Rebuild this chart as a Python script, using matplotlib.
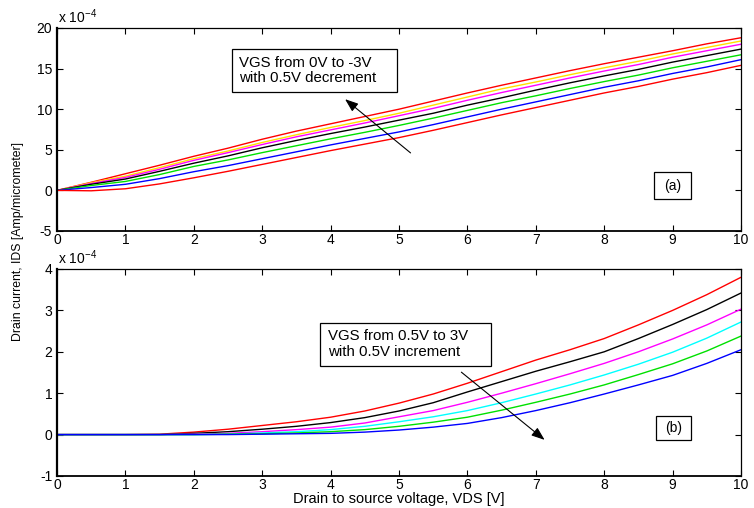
import matplotlib
matplotlib.use('Agg')
import matplotlib.pyplot as plt
from matplotlib.patches import Rectangle

plt.rcParams['font.family'] = ['Liberation Sans', 'DejaVu Sans']
plt.rcParams['mathtext.fontset'] = 'custom'
plt.rcParams['mathtext.rm'] = 'Liberation Sans'
plt.rcParams['mathtext.it'] = 'Liberation Sans'
plt.rcParams['axes.unicode_minus'] = False

# drain-source voltage [V]
vds = [0, 0.5, 1, 1.5, 2, 2.5, 3, 3.5, 4, 4.5, 5, 5.5, 6, 6.5, 7, 7.5, 8, 8.5, 9, 9.5, 10]

# (a) IDS in units of 1e-4 A/um, VGS from 0V to -3V
ids_a_red1 = [0, 1.0, 2.05, 3.1, 4.2, 5.2, 6.3, 7.3, 8.2, 9.1, 10.0, 11.0, 12.0, 12.95, 13.85, 14.75, 15.6, 16.4, 17.2, 18.05, 18.8]
ids_a_yellow = [0, 0.95, 1.75, 2.8, 3.9, 4.85, 5.9, 6.85, 7.75, 8.6, 9.5, 10.5, 11.5, 12.5, 13.35, 14.25, 15.1, 15.9, 16.8, 17.6, 18.4]
ids_a_magenta = [0, 0.85, 1.6, 2.6, 3.7, 4.65, 5.65, 6.6, 7.45, 8.3, 9.2, 10.1, 11.1, 12.05, 12.95, 13.85, 14.7, 15.5, 16.4, 17.2, 18.0]
ids_a_black = [0, 0.75, 1.4, 2.35, 3.35, 4.25, 5.25, 6.15, 7.0, 7.8, 8.65, 9.5, 10.5, 11.4, 12.35, 13.25, 14.1, 14.9, 15.8, 16.6, 17.4]
ids_a_green = [0, 0.6, 1.1, 1.95, 2.95, 3.75, 4.65, 5.5, 6.35, 7.15, 8.0, 8.9, 9.85, 10.8, 11.65, 12.55, 13.4, 14.2, 15.1, 15.9, 16.7]
ids_a_blue = [0, 0.35, 0.75, 1.45, 2.3, 3.05, 3.9, 4.75, 5.6, 6.4, 7.2, 8.1, 9.05, 10.0, 10.9, 11.8, 12.7, 13.5, 14.4, 15.2, 16.1]
ids_a_red2 = [0, -0.05, 0.2, 0.8, 1.55, 2.35, 3.2, 4.05, 4.9, 5.7, 6.5, 7.4, 8.35, 9.3, 10.2, 11.1, 12.0, 12.8, 13.7, 14.5, 15.4]

# (b) IDS in units of 1e-4 A/um, VGS from 0.5V to 3V
ids_b_red = [0, 0, 0, 0.01, 0.06, 0.13, 0.22, 0.31, 0.42, 0.57, 0.76, 0.98, 1.24, 1.52, 1.8, 2.05, 2.32, 2.65, 3.0, 3.38, 3.8]
ids_b_black = [0, 0, 0, 0, 0.03, 0.07, 0.13, 0.2, 0.29, 0.41, 0.57, 0.77, 1.03, 1.28, 1.53, 1.76, 2.0, 2.32, 2.66, 3.02, 3.42]
ids_b_magenta = [0, 0, 0, 0, 0.01, 0.03, 0.07, 0.12, 0.18, 0.28, 0.43, 0.58, 0.78, 1.0, 1.23, 1.47, 1.72, 2.0, 2.31, 2.65, 3.03]
ids_b_cyan = [0, 0, 0, 0, 0, 0.01, 0.04, 0.07, 0.12, 0.2, 0.31, 0.43, 0.58, 0.77, 0.98, 1.2, 1.44, 1.7, 1.99, 2.33, 2.72]
ids_b_green = [0, 0, 0, 0, 0, 0.01, 0.02, 0.04, 0.07, 0.12, 0.2, 0.3, 0.42, 0.59, 0.78, 0.98, 1.2, 1.45, 1.71, 2.02, 2.38]
ids_b_blue = [0, 0, 0, 0, 0, 0, 0.01, 0.02, 0.03, 0.06, 0.11, 0.18, 0.27, 0.41, 0.58, 0.77, 0.98, 1.2, 1.43, 1.72, 2.05]

curves_a = [(ids_a_red1, 'red'), (ids_a_yellow, '#ffe000'), (ids_a_magenta, 'magenta'),
            (ids_a_black, 'black'), (ids_a_green, '#00e000'), (ids_a_blue, 'blue'), (ids_a_red2, 'red')]
curves_b = [(ids_b_red, 'red'), (ids_b_black, 'black'), (ids_b_magenta, 'magenta'),
            (ids_b_cyan, 'cyan'), (ids_b_green, '#00e000'), (ids_b_blue, 'blue')]

fs = 10
fs_note = 10.8

fig = plt.figure(figsize=(7.54, 5.08), dpi=100)
ax1 = fig.add_axes([0.0756, 0.5453, 0.9072, 0.3996])
ax2 = fig.add_axes([0.0756, 0.0630, 0.9072, 0.4075])


def style(ax, ylim, yticks):
    ax.set_xlim(0, 10)
    ax.set_ylim(*ylim)
    ax.set_xticks(range(0, 11))
    ax.set_yticks(yticks)
    ax.tick_params(direction='in', length=4, width=0.8, top=True, right=True,
                   labelsize=fs, colors='black', pad=3.5)
    ax.tick_params(axis='x', pad=1.5)
    for s in ax.spines.values():
        s.set_linewidth(0.9)
    ax.spines['left'].set_linewidth(1.6)
    ax.spines['bottom'].set_linewidth(1.3)


def note_box(ax, x0, y0, x1, y1):
    ax.add_patch(Rectangle((x0, y0), x1 - x0, y1 - y0, fc='white', ec='black', lw=0.9, zorder=4))


arrow = dict(arrowstyle='-|>,head_length=0.8,head_width=0.3', color='black', lw=0.8)

for y, c in curves_a:
    ax1.plot(vds, y, color=c, lw=1.0)
style(ax1, (-5, 20), range(-5, 21, 5))
ax1.text(0.002, 1.012, r'x 10$^{-4}$', transform=ax1.transAxes, fontsize=fs, va='bottom', ha='left')

note_box(ax1, 2.56, 12.07, 4.97, 17.36)
ax1.text(2.66, 14.75, 'VGS from 0V to -3V\nwith 0.5V decrement', fontsize=fs_note, ha='left', va='center',
         linespacing=1.15, zorder=5)
ax1.annotate('', xy=(4.18, 11.45), xytext=(5.2, 4.4), arrowprops=arrow)
note_box(ax1, 8.73, -1.11, 9.27, 2.22)
ax1.text(9.0, 0.55, '(a)', fontsize=fs, ha='center', va='center', zorder=5)

for y, c in curves_b:
    ax2.plot(vds, y, color=c, lw=1.0)
style(ax2, (-1, 4), range(-1, 5))
ax2.text(0.002, 1.012, r'x 10$^{-4}$', transform=ax2.transAxes, fontsize=fs, va='bottom', ha='left')

note_box(ax2, 3.845, 1.667, 6.345, 2.705)
ax2.text(3.96, 2.19, 'VGS from 0.5V to 3V\nwith 0.5V increment', fontsize=fs_note, ha='left', va='center',
         linespacing=1.15, zorder=5)
ax2.annotate('', xy=(7.16, -0.17), xytext=(5.88, 1.55), arrowprops=arrow)
note_box(ax2, 8.757, -0.12, 9.27, 0.46)
ax2.text(9.01, 0.17, '(b)', fontsize=fs, ha='center', va='center', zorder=5)

fig.text(0.024, 0.524, 'Drain current, IDS [Amp/micrometer]', rotation=90, fontsize=8.8, ha='center', va='center')
fig.text(0.529, 0.003, 'Drain to source voltage, VDS [V]', fontsize=10.5, ha='center', va='bottom')

fig.savefig('out.png', dpi=100)
